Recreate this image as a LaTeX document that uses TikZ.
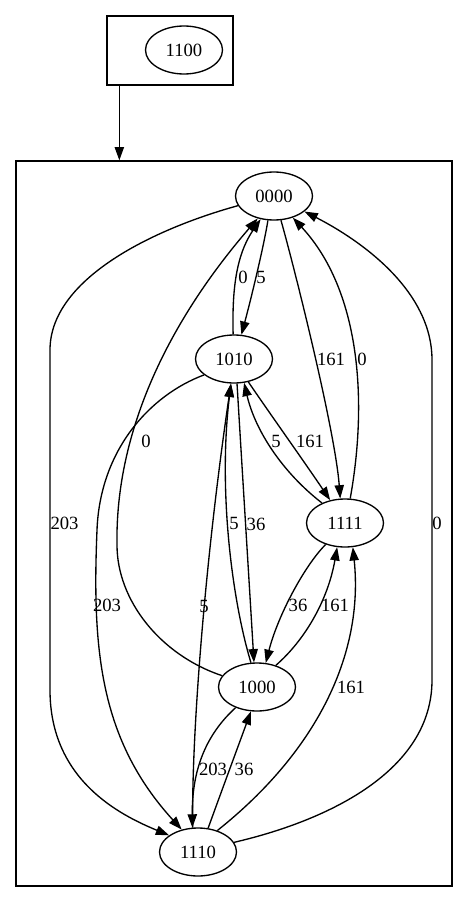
\documentclass[tikz,border=0pt]{standalone}
\usepackage{fontspec}
\setmainfont{Liberation Serif}
\usetikzlibrary{arrows.meta,shapes.geometric}
\begin{document}
\begin{tikzpicture}[x=0.75pt,y=-0.75pt,
  state/.style={ellipse,draw,line width=1pt,minimum width=57.75pt,minimum height=36pt,inner sep=0pt,font=\fontsize{14pt}{16pt}\selectfont},
  edge/.style={line width=1pt,-{Triangle[length=10pt,width=7pt]}},
  lbl/.style={inner sep=0pt,font=\fontsize{14pt}{16pt}\selectfont},
  cluster/.style={draw,line width=1pt,inner sep=0pt}]
\useasboundingbox (0,0) rectangle (468,903);
% clusters
\node[cluster,minimum width=94.5pt,minimum height=51.75pt] (top) at (170,50.5) {};
\node[cluster,minimum width=327pt,minimum height=543.75pt] (main) at (234,523.5) {};
% states
\node[state] (n1100) at (184,50) {1100};
\node[state] (n0000) at (274,196) {0000};
\node[state] (n1010) at (234,359) {1010};
\node[state] (n1111) at (345,523) {1111};
\node[state] (n1000) at (257,687) {1000};
\node[state] (n1110) at (198,852) {1110};
% cluster edge
\draw[edge] ([xshift=9.75pt]top.south west) -- ([xshift=78pt]main.north west);
% edges
\draw[edge] (n0000.195) .. controls (150,230) and (50,280) .. (50,350) -- (50,690) .. controls (50,780) and (120,815) .. (n1110.150);
\draw[edge] (n0000.256) .. controls (264,245) and (252,295) .. (n1010.73);
\draw[edge] (n1010.92) .. controls (232,290) and (236,255) .. (n0000.240);
\draw[edge] (n1010.208) .. controls (150,395) and (100,450) .. (97,530) .. controls (92,650) and (100,740) .. (n1110.126);
\draw[edge] (n1000.162) .. controls (160,655) and (117,600) .. (117,545) .. controls (115,430) and (170,320) .. (n0000.234);
\draw[edge] (n0000.286) .. controls (295,270) and (335,430) .. (n1111.101);
\draw[edge] (n1111.78) .. controls (368,400) and (360,290) .. (n0000.311);
\draw[edge] (n1110.15) .. controls (330,820) and (432,770) .. (432,680) -- (432,360) .. controls (432,290) and (360,240) .. (n0000.333);
\draw[edge] (n1010.302) .. controls (273,418) and (303,460) .. (n1111.123);
\draw[edge] (n1111.139) .. controls (282,472) and (255,430) .. (n1010.293);
\draw[edge] (n1000.104) .. controls (232,600) and (218,490) .. (n1010.263);
\draw[edge] (n1010.277) .. controls (242.6,476.3) and (248.4,569.7) .. (n1000.97);
\draw[edge] (n1110.102) .. controls (191,740) and (205,560) .. (n1010.263);
\draw[edge] (n1111.228) .. controls (305,565) and (278,615) .. (n1000.70);
\draw[edge] (n1000.49) .. controls (305,640) and (328,600) .. (n1111.252);
\draw[edge] (n1110.48) .. controls (316,752) and (364,655) .. (n1111.288);
\draw[edge] (n1000.224) .. controls (200,740) and (192,780) .. (n1110.103);
\draw[edge] (n1110.67) .. controls (222.2,789.4) and (236.7,750.1) .. (n1000.256);
% labels
\node[lbl] (l1) at (64.5,523) {203};
\node[lbl] (l2) at (261,277) {5};
\node[lbl] (l3) at (243,277) {0};
\node[lbl] (l4) at (107,605) {203};
\node[lbl] (l5) at (146,441) {0};
\node[lbl] (l6) at (331,359) {161};
\node[lbl] (l7) at (362,359) {0};
\node[lbl] (l8) at (437,523) {0};
\node[lbl] (l9) at (310,441) {161};
\node[lbl] (l10) at (276,441) {5};
\node[lbl] (l11) at (234,523) {5};
\node[lbl] (l12) at (256,524) {36};
\node[lbl] (l13) at (204,606) {5};
\node[lbl] (l14) at (298,605) {36};
\node[lbl] (l15) at (335,605) {161};
\node[lbl] (l16) at (351,687) {161};
\node[lbl] (l17) at (213,769) {203};
\node[lbl] (l18) at (244,769) {36};
\end{tikzpicture}
\end{document}
